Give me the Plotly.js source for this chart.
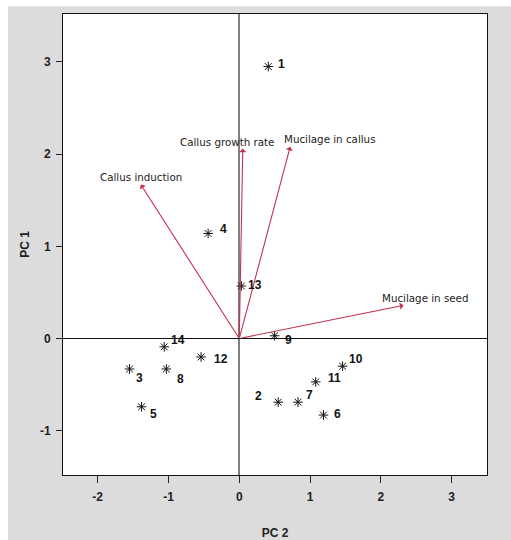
<!DOCTYPE html>
<html>
<head>
<meta charset="utf-8">
<script src="https://cdn.plot.ly/plotly-3.0.1.min.js"></script>
<style>html,body{margin:0;padding:0;background:#fff;}#chart{width:511px;height:540px;}</style>
</head>
<body>
<div id="chart"></div>
<script>
// Scores (PC 2 on x, PC 1 on y)
const sampleLabels = ['1','2','3','4','5','6','7','8','9','10','11','12','13','14'];
const pc2Scores = [0.41, 0.55, -1.55, -0.44, -1.38, 1.19, 0.83, -1.03, 0.50, 1.46, 1.08, -0.54, 0.03, -1.06];
const pc1Scores = [2.95, -0.69, -0.33, 1.14, -0.74, -0.83, -0.69, -0.33, 0.03, -0.30, -0.47, -0.20, 0.57, -0.09];

// Loadings (variable vectors)
const varNames = ['Callus induction','Callus growth rate','Mucilage in callus','Mucilage in seed'];
const varPC2 = [-1.39, 0.05, 0.72, 2.32];
const varPC1 = [1.67, 2.06, 2.08, 0.36];

const xTicks = [-2, -1, 0, 1, 2, 3];
const yTicks = [-1, 0, 1, 2, 3];

// label placement (pixel offsets from marker), style only
const labelShift = [[8,3],[-14,6],[4,-9],[10,4],[6,-7],[9,1],[6,7],[9,-10],[8,-4],[4,7],[10,4],[11,-2],[5,1],[5,7]];

const arrowColor = '#c4304e';
const nameShift = [[0, 8], [-16, 7], [40, 8], [22, 7]];

const annotations = [];
varNames.forEach((n, i) => {
  annotations.push({
    x: varPC2[i], y: varPC1[i], ax: 0, ay: 0,
    xref: 'x', yref: 'y', axref: 'x', ayref: 'y',
    showarrow: true, arrowhead: 1, arrowsize: 1.1, arrowwidth: 1.1,
    arrowcolor: arrowColor, standoff: 0, text: ''
  });
  annotations.push({
    x: varPC2[i], y: varPC1[i], xref: 'x', yref: 'y',
    text: n, showarrow: false,
    xshift: nameShift[i][0], yshift: nameShift[i][1],
    font: {family: 'DejaVu Sans, Arial, sans-serif', size: 10.3, color: '#222'}
  });
});

const ptFont = {family: 'Arial, Liberation Sans, sans-serif', size: 12, color: '#111', weight: 700};
sampleLabels.forEach((s, i) => {
  const sh = labelShift[i];
  annotations.push({
    x: pc2Scores[i], y: pc1Scores[i], xref: 'x', yref: 'y',
    text: s, showarrow: false,
    xanchor: sh[0] < 0 ? 'right' : 'left', yanchor: 'middle',
    xshift: sh[0], yshift: sh[1], font: ptFont
  });
});

const trace = {
  x: pc2Scores, y: pc1Scores,
  mode: 'markers', type: 'scatter',
  marker: {symbol: 'asterisk-open', size: 8, color: '#111', line: {color: '#111', width: 1}},
  hoverinfo: 'none', cliponaxis: false
};

const axFont = {family: 'Arial, Liberation Sans, sans-serif', size: 12, color: '#222', weight: 700};

const layout = {
  width: 511, height: 540,
  margin: {l: 63, r: 24, t: 14, b: 65},
  paper_bgcolor: '#dcdcdc', plot_bgcolor: '#ffffff',
  showlegend: false,
  xaxis: {
    range: [-2.49, 3.5], tickvals: xTicks, ticktext: xTicks.map(String),
    ticks: 'outside', ticklen: 7, tickcolor: '#222', tickfont: axFont, ticklabelstandoff: 4,
    showgrid: false, zeroline: true, zerolinecolor: '#808080', zerolinewidth: 2,
    showline: true, mirror: true, linecolor: '#111', linewidth: 1,
    title: {text: 'PC 2', font: axFont, standoff: 33}
  },
  yaxis: {
    range: [-1.48, 3.52], tickvals: yTicks, ticktext: yTicks.map(String),
    ticks: 'outside', ticklen: 6, tickcolor: '#222', tickfont: axFont, ticklabelstandoff: 3,
    showgrid: false, zeroline: true, zerolinecolor: '#111', zerolinewidth: 1,
    showline: true, mirror: true, linecolor: '#111', linewidth: 1,
    title: {text: 'PC 1', font: axFont, standoff: 7}
  },
  annotations: annotations,
  shapes: [
    {type: 'rect', xref: 'paper', yref: 'paper', x0: -0.2, x1: -0.1297, y0: -0.2, y1: 1.1, fillcolor: '#ffffff', line: {width: 0}, layer: 'below'},
    {type: 'rect', xref: 'paper', yref: 'paper', x0: -0.2, x1: 1.2, y0: 1.017, y1: 1.1, fillcolor: '#ffffff', line: {width: 0}, layer: 'below'}
  ]
};

Plotly.newPlot('chart', [trace], layout, {displayModeBar: false, staticPlot: true});
</script>
</body>
</html>
